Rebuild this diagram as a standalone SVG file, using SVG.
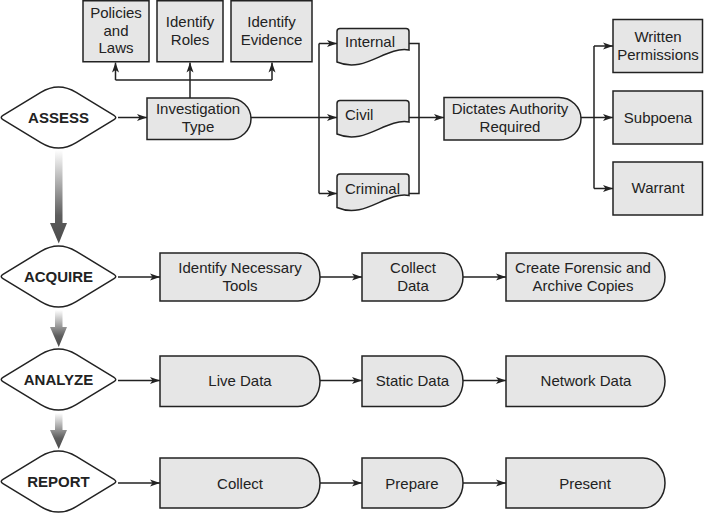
<svg xmlns="http://www.w3.org/2000/svg" width="704" height="515" viewBox="0 0 704 515">
<style>
.box{fill:#e6e6e6;stroke:#222;stroke-width:1.5}
.dia{fill:#fff;stroke:#222;stroke-width:1.5}
.t{font-family:"Liberation Sans",Arial,sans-serif;font-size:15px;fill:#222;text-anchor:middle}
.ts{text-anchor:start}
.b{font-weight:bold;font-size:15px}
.c{fill:none;stroke:#222;stroke-width:1.5}
.ca{fill:none;stroke:#222;stroke-width:1.5;marker-end:url(#ah)}
.g{fill:url(#grad)}
</style>
<defs>
<marker id="ah" markerWidth="10" markerHeight="8" refX="10" refY="4" orient="auto" markerUnits="userSpaceOnUse">
<path d="M0,0.5 L10,4 L0,7.5 L2.5,4 Z" fill="#222"/>
</marker>
<linearGradient id="grad" x1="0" y1="0" x2="0" y2="1">
<stop offset="0" stop-color="#ffffff"/>
<stop offset="0.7" stop-color="#5e5e5e"/>
<stop offset="1" stop-color="#4a4a4a"/>
</linearGradient>
<path id="diamond" d="M-55.5,2.2 Q-59,0 -55.5,-2.2 L-17.7,-25.2 Q0,-36 17.7,-25.2 L55.5,-2.2 Q59,0 55.5,2.2 L17.7,25.2 Q0,36 -17.7,25.2 Z"/>
<path id="doc" d="M0,33.5 V3 Q0,0 3,0 H69 Q72,0 72,3 V21.5 C48,17.5 28,45.5 0,33.5 Z"/>
</defs>

<g id="flow-arrows">
<path class="g" d="M55,150 H62.5 V223 H67 L58.75,243.5 L50,223 H55 Z"/>
<path class="g" d="M55,310 H62.5 V327 H67 L58.75,347 L50,327 H55 Z"/>
<path class="g" d="M55,413 H62.5 V430 H67 L58.75,449 L50,430 H55 Z"/>
</g>

<g id="connectors">
<path class="ca" d="M118,117.5 H147"/>
<path class="ca" d="M190,98 V62.5"/>
<path class="c" d="M115.5,80 H272"/>
<path class="ca" d="M115.5,80 V62.5"/>
<path class="ca" d="M272,80 V62.5"/>
<path class="ca" d="M251,117.5 H337"/>
<path class="c" d="M319,43.5 V193.5"/>
<path class="ca" d="M319,43.5 H337"/>
<path class="ca" d="M319,193.5 H337"/>
<path class="c" d="M409,43.5 H419 V193.5 H409"/>
<path class="ca" d="M409,117.5 H444"/>
<path class="ca" d="M581,117.5 H613"/>
<path class="c" d="M594,46 V188.5"/>
<path class="ca" d="M594,46 H613"/>
<path class="ca" d="M594,188.5 H613"/>
<path class="ca" d="M118,277 H160"/>
<path class="ca" d="M320,277 H362"/>
<path class="ca" d="M463,277 H506"/>
<path class="ca" d="M118,380.5 H160"/>
<path class="ca" d="M320,380.5 H362"/>
<path class="ca" d="M463,380.5 H506"/>
<path class="ca" d="M118,483 H160"/>
<path class="ca" d="M320,483 H362"/>
<path class="ca" d="M463,483 H506"/>
</g>

<g id="assess">
<use href="#diamond" class="dia" x="58.5" y="117.5"/>
<text class="t b" x="58.5" y="123">ASSESS</text>
</g>
<g id="policies">
<rect class="box" x="83" y="0.75" width="66" height="61"/>
<text class="t" x="116" y="18.3">Policies</text>
<text class="t" x="116" y="35.8">and</text>
<text class="t" x="116" y="53.3">Laws</text>
</g>
<g id="roles">
<rect class="box" x="157" y="0.75" width="66" height="61"/>
<text class="t" x="190" y="27.3">Identify</text>
<text class="t" x="190" y="44.5">Roles</text>
</g>
<g id="evidence">
<rect class="box" x="231" y="0.75" width="81" height="61"/>
<text class="t" x="271.5" y="27.3">Identify</text>
<text class="t" x="271.5" y="44.5">Evidence</text>
</g>
<g id="investigation-type">
<path class="box" d="M147,98 H229 A22,20.75 0 0 1 229,139.5 H147 Z"/>
<text class="t" x="198" y="114.3">Investigation</text>
<text class="t" x="198" y="131.7">Type</text>
</g>
<g id="internal">
<use href="#doc" class="box" x="337" y="28.5"/>
<text class="t ts" x="345" y="46.7">Internal</text>
</g>
<g id="civil">
<use href="#doc" class="box" x="337" y="100.5"/>
<text class="t ts" x="345" y="120">Civil</text>
</g>
<g id="criminal">
<use href="#doc" class="box" x="337" y="174"/>
<text class="t ts" x="345" y="194">Criminal</text>
</g>
<g id="dictates">
<path class="box" d="M444,97.5 H559 A22,21.25 0 0 1 559,140 H444 Z"/>
<text class="t" x="510" y="114.3">Dictates Authority</text>
<text class="t" x="510" y="132.3">Required</text>
</g>
<g id="written">
<rect class="box" x="613" y="19.5" width="89.5" height="53"/>
<text class="t" x="658" y="42.3">Written</text>
<text class="t" x="658" y="59.5">Permissions</text>
</g>
<g id="subpoena">
<rect class="box" x="613" y="91" width="89.5" height="53"/>
<text class="t" x="658" y="122.7">Subpoena</text>
</g>
<g id="warrant">
<rect class="box" x="613" y="162" width="89.5" height="53"/>
<text class="t" x="658" y="193.3">Warrant</text>
</g>

<g id="acquire">
<use href="#diamond" class="dia" x="58.5" y="276.5"/>
<text class="t b" x="58.5" y="281.7">ACQUIRE</text>
</g>
<g id="identify-tools">
<path class="box" d="M160,253 H298 A22,24 0 0 1 298,301 H160 Z"/>
<text class="t" x="240" y="272.7">Identify Necessary</text>
<text class="t" x="240" y="290.7">Tools</text>
</g>
<g id="collect-data">
<path class="box" d="M362,253 H441 A22,24 0 0 1 441,301 H362 Z"/>
<text class="t" x="413" y="272.7">Collect</text>
<text class="t" x="413" y="290.7">Data</text>
</g>
<g id="forensic-copies">
<path class="box" d="M506,253 H643 A22,24 0 0 1 643,301 H506 Z"/>
<text class="t" x="583" y="272.7">Create Forensic and</text>
<text class="t" x="583" y="290.7">Archive Copies</text>
</g>

<g id="analyze">
<use href="#diamond" class="dia" x="58.5" y="379.5"/>
<text class="t b" x="58.5" y="385">ANALYZE</text>
</g>
<g id="live-data">
<path class="box" d="M160,356 H298 A22,25.25 0 0 1 298,406.5 H160 Z"/>
<text class="t" x="240" y="386">Live Data</text>
</g>
<g id="static-data">
<path class="box" d="M362,356 H441 A22,25.25 0 0 1 441,406.5 H362 Z"/>
<text class="t" x="412.5" y="386">Static Data</text>
</g>
<g id="network-data">
<path class="box" d="M506,356 H643 A22,25.25 0 0 1 643,406.5 H506 Z"/>
<text class="t" x="586" y="386">Network Data</text>
</g>

<g id="report">
<use href="#diamond" class="dia" x="58.5" y="481.5"/>
<text class="t b" x="58.5" y="487.3">REPORT</text>
</g>
<g id="collect">
<path class="box" d="M160,458 H298 A22,25 0 0 1 298,508 H160 Z"/>
<text class="t" x="240" y="489">Collect</text>
</g>
<g id="prepare">
<path class="box" d="M362,458 H441 A22,25 0 0 1 441,508 H362 Z"/>
<text class="t" x="412" y="489">Prepare</text>
</g>
<g id="present">
<path class="box" d="M506,458 H643 A22,25 0 0 1 643,508 H506 Z"/>
<text class="t" x="585" y="489">Present</text>
</g>
</svg>
